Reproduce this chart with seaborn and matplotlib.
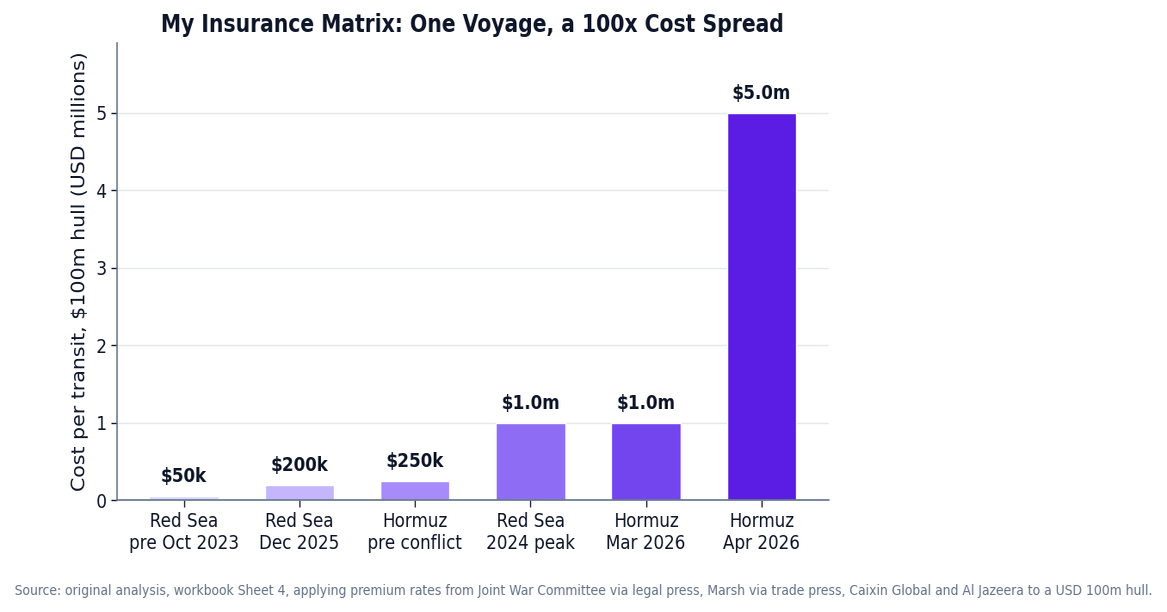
import io
import matplotlib
matplotlib.use("Agg")
import matplotlib.pyplot as plt
import seaborn as sns
import pandas as pd
from PIL import Image

# Chart data
routes = ["Red Sea\npre Oct 2023", "Red Sea\nDec 2025", "Hormuz\npre conflict",
          "Red Sea\n2024 peak", "Hormuz\nMar 2026", "Hormuz\nApr 2026"]
cost_musd = [0.05, 0.2, 0.25, 1.0, 1.0, 5.0]
value_labels = ["$50k", "$200k", "$250k", "$1.0m", "$1.0m", "$5.0m"]
bar_colors = ["#ddd6fe", "#c4b5fd", "#a78bfa", "#8f6cf4", "#7245ef", "#5b1ce4"]

df = pd.DataFrame({"route": routes, "cost": cost_musd})

sns.set_theme(style="white")
plt.rcParams["font.family"] = ["DejaVu Sans"]

# drawn wider, then squeezed to the final 1167x612 (narrow text look)
squeeze = 0.86
fig = plt.figure(figsize=(11.67 / squeeze, 6.12), dpi=100)
ax = fig.add_axes([0.100, 0.183, 0.6095, 0.747])

sns.barplot(data=df, x="route", y="cost", hue="route", palette=bar_colors,
            width=0.6, legend=False, ax=ax, saturation=1)

ax.set_xlim(-0.58, 5.58)
ax.set_ylim(0, 5.9)
ax.set_yticks([0, 1, 2, 3, 4, 5])
ax.yaxis.grid(True, color="#e5e7eb", linewidth=1)
ax.set_axisbelow(True)

for i, (v, lab) in enumerate(zip(cost_musd, value_labels)):
    ax.annotate(lab, (i, v), xytext=(0, 7), textcoords="offset points",
                ha="center", va="bottom", fontsize=14, fontweight="bold",
                color="#0f172a")

ax.set_xlabel("")
ax.set_ylabel("Cost per transit, $100m hull (USD millions)", fontsize=14.8,
              color="#0f172a", labelpad=6)
ax.tick_params(axis="both", labelsize=14, colors="#0f172a", length=5,
               width=1, bottom=True, left=True)
for s in ["top", "right"]:
    ax.spines[s].set_visible(False)
for s in ["left", "bottom"]:
    ax.spines[s].set_color("#64748b")
    ax.spines[s].set_linewidth(1.2)

ax.set_title("My Insurance Matrix: One Voyage, a 100x Cost Spread",
             fontsize=17, fontweight="bold", color="#0f172a", pad=8)

fig.text(0.5, 0.035,
         "Source: original analysis, workbook Sheet 4, applying premium rates from Joint War Committee "
         "via legal press, Marsh via trade press, Caixin Global and Al Jazeera to a USD 100m hull.",
         ha="center", va="center", fontsize=10.35, color="#64748b")

buf = io.BytesIO()
fig.savefig(buf, dpi=100, format="png")
buf.seek(0)
img = Image.open(buf).convert("RGB")
img = img.resize((1167, 612), Image.LANCZOS)
img.save("out.png")
